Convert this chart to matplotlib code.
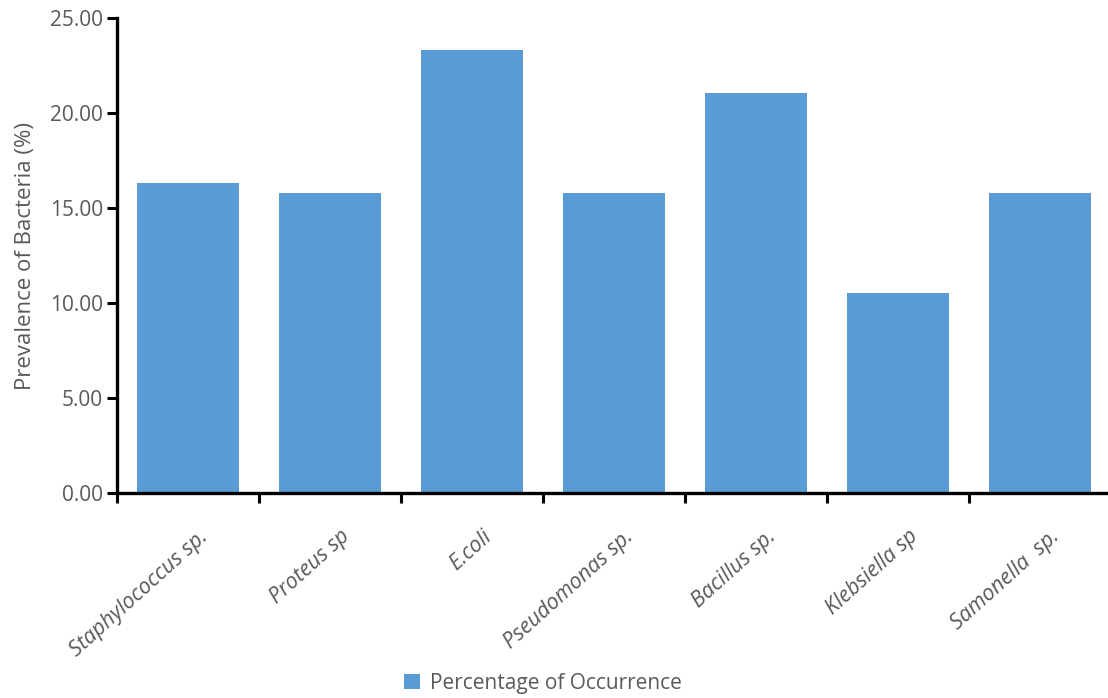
import numpy as np
import matplotlib
matplotlib.use("Agg")
import matplotlib.pyplot as plt
import matplotlib.transforms as mtransforms

bacteria = [
    "Staphylococcus sp.",
    "Proteus sp",
    "E.coli",
    "Pseudomonas sp.",
    "Bacillus sp.",
    "Klebsiella sp",
    "Samonella  sp.",
]
occurrence = [16.32, 15.79, 23.33, 15.79, 21.05, 10.53, 15.79]

plt.rcParams["font.family"] = ["Open Sans", "DejaVu Sans"]
grey = "#595959"
blue = "#5B9BD5"

fig = plt.figure(figsize=(11.08, 6.98), dpi=100)
ax = fig.add_axes([117 / 1108, 205 / 698, 994 / 1108, 475 / 698])

x = np.arange(len(bacteria))
ax.bar(x, occurrence, width=0.72, color=blue, label="Percentage of Occurrence")

ax.set_xlim(-0.5, len(bacteria) - 0.5)
ax.set_ylim(0, 25)
ax.set_yticks(np.arange(0, 25.1, 5))
ax.set_yticklabels([f"{v:.2f}" for v in np.arange(0, 25.1, 5)])

# tick marks sit on category boundaries; names are placed under each bar
ax.set_xticks(np.arange(-0.5, len(bacteria) - 0.5, 1.0))
ax.set_xticklabels([])
offset = mtransforms.ScaledTranslation(0.24, -0.33, fig.dpi_scale_trans)
for xi, name in zip(x, bacteria):
    ax.text(xi, 0, name, transform=ax.get_xaxis_transform() + offset,
            rotation=42, ha="right", va="top", fontstyle="italic",
            fontsize=15.5, color=grey)

ax.tick_params(axis="x", direction="out", length=7, width=2.2, color="black")
ax.tick_params(axis="y", direction="out", length=7, width=2.2, color="black",
               labelsize=15, labelcolor=grey, pad=3)

for side in ("top", "right"):
    ax.spines[side].set_visible(False)
for side in ("left", "bottom"):
    ax.spines[side].set_linewidth(2.4)
    ax.spines[side].set_color("black")

ax.set_ylabel("Prevalence of Bacteria (%)", fontsize=16, color=grey, labelpad=10)

fig.legend(loc="center", bbox_to_anchor=(543 / 1108, 15 / 698), frameon=False,
           fontsize=15, labelcolor=grey, handlelength=0.75, handleheight=0.75,
           handletextpad=0.5)

fig.savefig("out.png", dpi=100)
